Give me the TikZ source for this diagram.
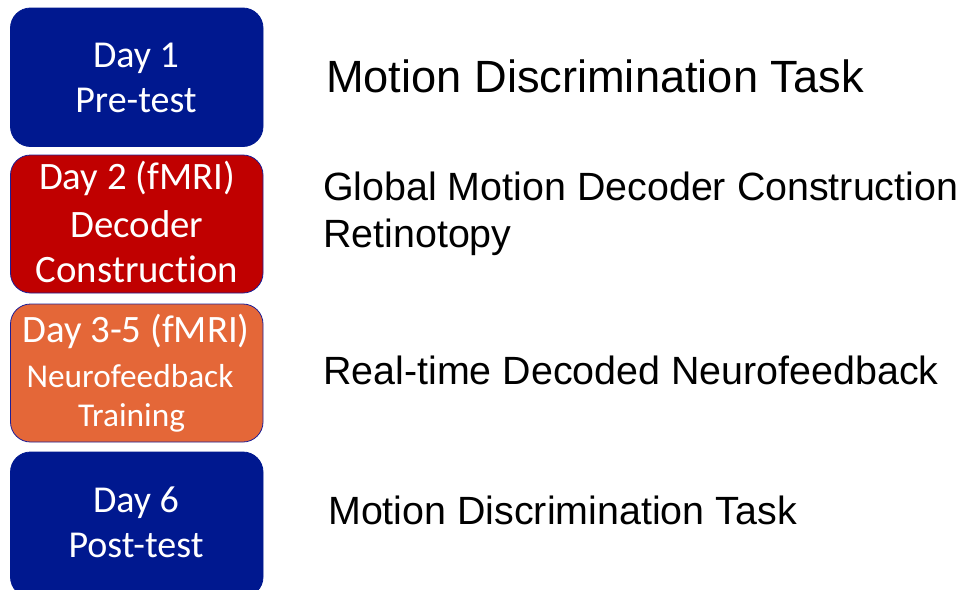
\documentclass[tikz,border=0pt]{standalone}
\usepackage{fontspec}
\setmainfont{Liberation Sans}
\newfontfamily\boxfont[Ligatures=NoCommon]{Carlito}
\definecolor{navy}{RGB}{0,24,143}
\definecolor{redbox}{RGB}{192,0,0}
\definecolor{orangebox}{RGB}{228,103,56}
\definecolor{edgeblue}{RGB}{30,30,150}
\begin{document}
\begin{tikzpicture}[x=1pt,y=-1pt,
  daybox/.style={draw=edgeblue,line width=0.8pt,rounded corners=20pt},
  boxtxt/.style={anchor=base,text=white,inner sep=0pt,font=\boxfont\fontsize{38}{42}\selectfont},
  midtxt/.style={boxtxt,font=\boxfont\fontsize{38.8}{42}\selectfont},
  smalltxt/.style={boxtxt,font=\boxfont\fontsize{33.3}{38}\selectfont},
  desc/.style={anchor=base west,inner sep=0pt,font=\fontsize{39.4}{45}\selectfont},
  bigdesc/.style={desc,font=\fontsize{45.2}{50}\selectfont}]
\useasboundingbox (0,0) rectangle (960,589);
\clip (0,0) rectangle (960,589);
% boxes
\draw[daybox,fill=navy,draw=navy] (10.5,8) rectangle (263,146.5);
\draw[daybox,fill=redbox] (10.5,155) rectangle (263,293);
\draw[daybox,fill=orangebox] (10.5,304) rectangle (263,442);
\draw[daybox,fill=navy,draw=navy] (10.5,452) rectangle (263,597);
% box texts
\node[boxtxt] (d1a) at (136,67) {Day 1};
\node[boxtxt] (d1b) at (136,112) {Pre-test};
\node[midtxt] (d2a) at (137,189) {Day 2 (fMRI)};
\node[midtxt] (d2b) at (137,237) {Decoder};
\node[midtxt] (d2c) at (137,282) {Construction};
\node[midtxt] (d3a) at (136,342) {Day 3-5 (fMRI)};
\node[smalltxt] (d3b) at (130,387) {Neurofeedback};
\node[smalltxt] (d3c) at (131.5,426) {Training};
\node[boxtxt] (d6a) at (136,512) {Day 6};
\node[boxtxt] (d6b) at (136,557) {Post-test};
% descriptions
\node[bigdesc] (t1) at (326,92) {Motion Discrimination Task};
\node[desc] (t2a) at (323,200) {Global Motion Decoder Construction};
\node[desc] (t2b) at (323,247) {Retinotopy};
\node[desc] (t3) at (323,384) {Real-time Decoded Neurofeedback};
\node[desc] (t4) at (328,524) {Motion Discrimination Task};
\end{tikzpicture}
\end{document}
